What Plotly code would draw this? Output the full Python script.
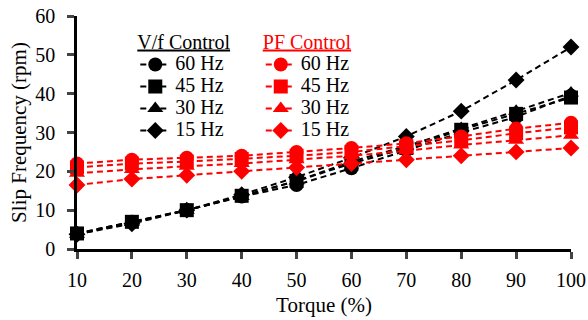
import plotly.graph_objects as go

torque = [10, 20, 30, 40, 50, 60, 70, 80, 90, 100]

# Slip frequency (rpm) under V/f control
vf_60 = [4.0, 7.0, 10.0, 13.5, 16.5, 20.8, 25.5, 30.0, 34.0, 39.5]
vf_45 = [4.0, 7.0, 10.0, 13.7, 17.5, 22.0, 26.0, 30.7, 34.8, 39.0]
vf_30 = [3.8, 6.8, 10.0, 13.5, 17.5, 22.5, 26.5, 31.0, 35.5, 40.2]
vf_15 = [3.8, 6.5, 10.0, 14.0, 18.5, 23.5, 29.0, 35.5, 43.5, 52.0]

# Slip frequency (rpm) under PF control
pf_60 = [22.0, 23.0, 23.5, 24.0, 25.0, 26.0, 27.2, 29.0, 31.0, 32.5]
pf_45 = [21.0, 22.0, 22.5, 23.2, 24.0, 25.0, 26.5, 28.0, 29.8, 31.3]
pf_30 = [19.5, 20.5, 21.3, 22.0, 23.0, 24.0, 25.3, 26.8, 28.0, 29.3]
pf_15 = [16.5, 18.0, 19.0, 20.0, 21.0, 22.0, 23.0, 24.0, 25.0, 26.0]

labels = ["60 Hz", "45 Hz", "30 Hz", "15 Hz"]
symbols = ["circle", "square", "triangle-up", "diamond"]
sizes = [14, 14, 14, 13]

FONT = "Liberation Serif, Times New Roman, serif"
DASH = "6px,4px"


def entry(text):
    # legend row text at full size; row spacing comes from the smaller legend font
    return f'<span style="font-size:20px">{text}</span>'


fig = go.Figure()

for name, ys, sym, sz in zip(labels, [vf_60, vf_45, vf_30, vf_15], symbols, sizes):
    fig.add_trace(go.Scatter(
        x=torque, y=ys, name=entry(name), mode="lines+markers",
        line=dict(color="black", width=2, dash=DASH),
        marker=dict(color="black", symbol=sym, size=sz),
        legend="legend", cliponaxis=False,
    ))

for name, ys, sym, sz in zip(labels, [pf_60, pf_45, pf_30, pf_15], symbols, sizes):
    fig.add_trace(go.Scatter(
        x=torque, y=ys, name=entry(name), mode="lines+markers",
        line=dict(color="red", width=2, dash=DASH),
        marker=dict(color="red", symbol=sym, size=sz),
        legend="legend2", cliponaxis=False,
    ))

legend_common = dict(
    font=dict(family=FONT, size=14.6, color="black"),
    bgcolor="rgba(0,0,0,0)",
    xanchor="left", yanchor="top",
    itemwidth=30,
    tracegroupgap=0,
)

fig.update_layout(
    width=588, height=320,
    margin=dict(l=77, r=17, t=16, b=71),
    paper_bgcolor="white", plot_bgcolor="white",
    font=dict(family=FONT, size=20, color="black"),
    showlegend=True,
    legend=dict(
        x=0.118, y=0.972,
        title=dict(text="<u>V/f Control</u>", side="top",
                   font=dict(family=FONT, size=20, color="black")),
        **legend_common,
    ),
    legend2=dict(
        x=0.372, y=0.972,
        title=dict(text="<u>PF Control</u>", side="top",
                   font=dict(family=FONT, size=20, color="red")),
        **legend_common,
    ),
    xaxis=dict(
        range=[10, 100], tickvals=torque, ticks="outside", ticklen=7, tickwidth=2.5,
        showline=True, linecolor="black", linewidth=2.5, showgrid=False, zeroline=False,
        tickfont=dict(family=FONT, size=20), ticklabelstandoff=4, automargin=False,
        title=dict(text="Torque (%)", font=dict(family=FONT, size=21), standoff=8),
    ),
    yaxis=dict(
        range=[0, 60], dtick=10, ticks="outside", ticklen=7, tickwidth=2.5,
        showline=True, linecolor="black", linewidth=2.5, showgrid=False, zeroline=False,
        tickfont=dict(family=FONT, size=20), ticklabelstandoff=8, automargin=False,
        title=dict(text="Slip Frequency (rpm)", font=dict(family=FONT, size=21), standoff=3),
    ),
)

fig.write_html("out.html")
